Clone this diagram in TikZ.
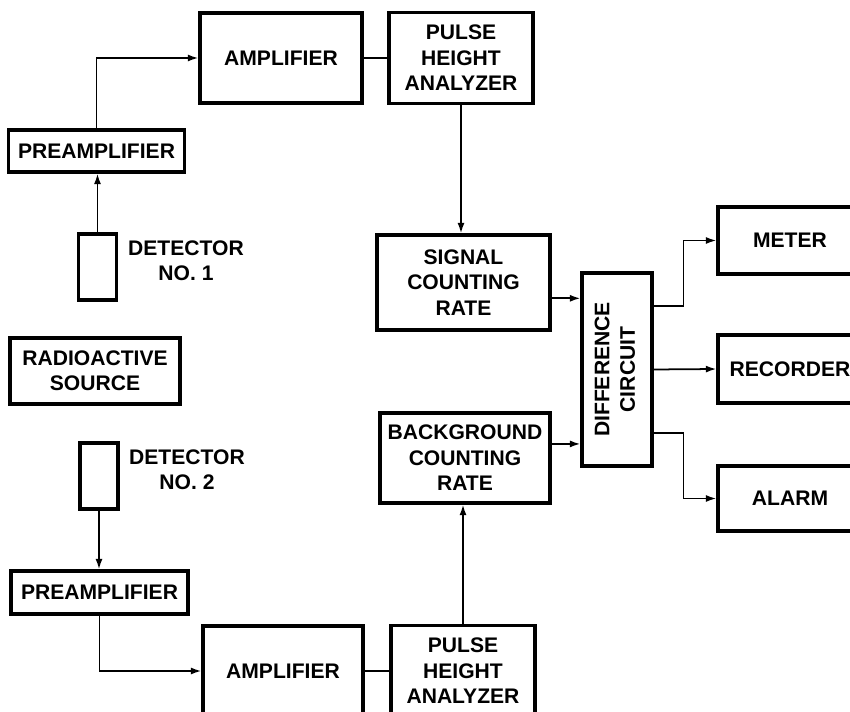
\documentclass[tikz,border=0pt]{standalone}
\usepackage{fontspec}
\setmainfont{Liberation Sans}
\usetikzlibrary{arrows.meta}

\begin{document}
\begin{tikzpicture}[
    font=\fontsize{12}{14.5}\selectfont\bfseries,
    box/.style={draw, line width=1.8pt, align=center, inner sep=2pt},
    arr/.style={line width=1pt, -{Latex[length=6pt,width=4pt]}},
    wire/.style={line width=1pt}
]

    % Frame of the page
    \clip (0,0) rectangle (17,-14.24);

    % Channel 1 (top)
    \node[box, minimum width=3.24cm, minimum height=1.8cm] (amp1) at (5.62,-1.16) {AMPLIFIER};
    \node[box, minimum width=2.88cm, minimum height=1.82cm] (pha1) at (9.22,-1.16) {PULSE\\HEIGHT\\ANALYZER};
    \node[box, minimum width=3.52cm, minimum height=0.84cm] (pre1) at (1.93,-3.02) {PREAMPLIFIER};
    \node[box, minimum width=0.76cm, minimum height=1.32cm] (det1) at (1.95,-5.34) {};
    \node[align=center] (det1lbl) at (3.72,-5.22) {DETECTOR\\NO. 1};

    % Source
    \node[box, minimum width=3.4cm, minimum height=1.32cm] (src) at (1.9,-7.42) {RADIOACTIVE\\SOURCE};

    % Channel 2 (bottom)
    \node[box, minimum width=0.76cm, minimum height=1.32cm] (det2) at (1.98,-9.52) {};
    \node[align=center] (det2lbl) at (3.74,-9.4) {DETECTOR\\NO. 2};
    \node[box, minimum width=3.54cm, minimum height=0.86cm] (pre2) at (1.99,-11.85) {PREAMPLIFIER};
    \node[box, minimum width=3.2cm, minimum height=1.8cm] (amp2) at (5.66,-13.42) {AMPLIFIER};
    \node[box, minimum width=2.88cm, minimum height=1.82cm] (pha2) at (9.26,-13.42) {PULSE\\HEIGHT\\ANALYZER};

    % Counting rates
    \node[box, minimum width=3.46cm, minimum height=1.9cm] (sig) at (9.27,-5.65) {SIGNAL\\COUNTING\\RATE};
    \node[box, minimum width=3.4cm, minimum height=1.8cm] (bkg) at (9.3,-9.16) {BACKGROUND\\COUNTING\\RATE};

    % Difference circuit and outputs
    \node[box, minimum width=1.4cm, minimum height=3.86cm] (diff) at (12.34,-7.39)
        {\rotatebox{90}{\begin{tabular}{@{}c@{}}DIFFERENCE\\CIRCUIT\end{tabular}}};
    \node[box, minimum width=2.88cm, minimum height=1.34cm] (meter) at (15.8,-4.81) {METER};
    \node[box, minimum width=2.88cm, minimum height=1.36cm] (rec) at (15.8,-7.38) {RECORDER};
    \node[box, minimum width=2.88cm, minimum height=1.3cm] (alarm) at (15.8,-9.97) {ALARM};

    % Connections, channel 1
    \draw[arr] (det1.north) -- (det1.north |- pre1.south);
    \draw[arr] (pre1.north) |- (amp1.west);
    \draw[wire] (amp1.east) -- (pha1.west);
    \draw[arr] (pha1.south) -- (pha1.south |- sig.north);

    % Connections, channel 2
    \draw[arr] (det2.south) -- (det2.south |- pre2.north);
    \draw[arr] (pre2.south) |- (amp2.west);
    \draw[wire] (amp2.east) -- (pha2.west);
    \draw[arr] (pha2.north) -- (pha2.north |- bkg.south);

    % Into and out of the difference circuit
    \draw[arr] ([yshift=-9pt]sig.east) -- ([yshift=-9pt]sig.east -| diff.west);
    \draw[arr] ([yshift=8pt]bkg.east) -- ([yshift=8pt]bkg.east -| diff.west);
    \draw[arr] ([yshift=36pt]diff.east) -- ++(0.6,0) |- (meter.west);
    \draw[arr] (diff.east) -- (rec.west);
    \draw[arr] ([yshift=-36pt]diff.east) -- ++(0.6,0) |- (alarm.west);

\end{tikzpicture}
\end{document}
